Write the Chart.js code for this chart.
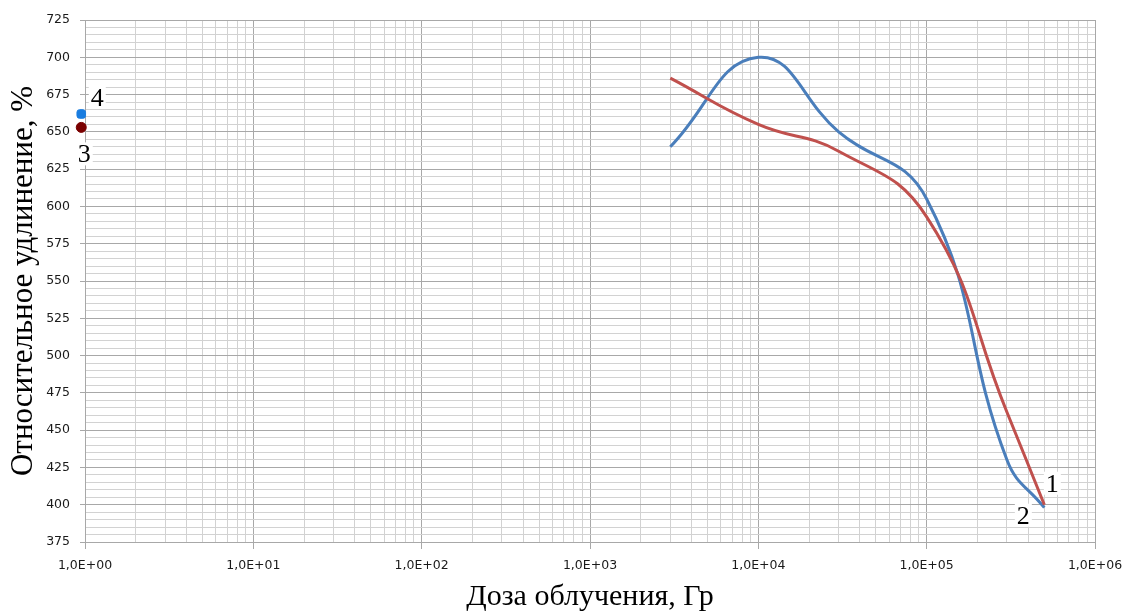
<!DOCTYPE html>
<html>
<head>
<meta charset="utf-8">
<script src="https://cdn.jsdelivr.net/npm/chart.js@4.4.0/dist/chart.umd.min.js"></script>
<style>
  html, body { margin: 0; padding: 0; background: #ffffff; }
  #wrap { width: 1126px; height: 613px; position: relative; }
</style>
</head>
<body>
<div id="wrap"><canvas id="chart" width="1126" height="613"></canvas></div>
<script>
// Irradiation dose, Gy, and relative elongation, %, for curve 1
const doses1 = [3e3, 1e4, 3e4, 1e5, 3e5, 5e5];
const elongation1 = [686, 655, 637, 593, 462, 400];
// Irradiation dose, Gy, and relative elongation, %, for curve 2
const doses2 = [3e3, 1e4, 3e4, 1e5, 3e5, 5e5];
const elongation2 = [640, 700, 650, 605, 430, 398];
// Unirradiated reference samples
const referenceDose = [0.95];
const elongation3 = [653];   // sample 3
const elongation4 = [662];   // sample 4

// Axis ranges and tick values
const decades = [1, 10, 100, 1e3, 1e4, 1e5, 1e6];
const yMin = 375, yMax = 725, yMajorStep = 25, yMinorStep = 5;
const curveNames = ['1', '2', '3', '4'];

const xGridValues = [];
decades.slice(0, -1).forEach(d => { for (let k = 1; k <= 9; k++) xGridValues.push(d * k); });
xGridValues.push(decades[decades.length - 1]);
const yGridValues = [];
for (let v = yMin; v <= yMax; v += yMinorStep) yGridValues.push(v);

const isDecade = v => Math.abs(Math.log10(v) - Math.round(Math.log10(v))) < 1e-9;
const isYMajor = v => v % yMajorStep === 0;
const sciLabel = v => {
  const e = Math.round(Math.log10(v));
  return '1,0E' + (e < 0 ? '-' : '+') + String(Math.abs(e)).padStart(2, '0');
};
const pairs = (xs, ys) => xs.map((x, i) => ({ x, y: ys[i] }));

const MAJOR_GRID = '#a8a8a8';
const MINOR_GRID = '#d2d2d2';

// Number tags next to the curves / markers, drawn on a white box
const tagSpecs = [
  { dataset: 0, index: doses1.length - 1, text: curveNames[0], dx: 8,  dy: -21 },
  { dataset: 1, index: doses2.length - 1, text: curveNames[1], dx: -21, dy: 8 },
  { dataset: 2, index: 0, text: curveNames[2], dx: 3,  dy: 27 },
  { dataset: 3, index: 0, text: curveNames[3], dx: 16, dy: -16 }
];

const curveTags = {
  id: 'curveTags',
  afterDatasetsDraw(chart) {
    const ctx = chart.ctx;
    ctx.save();
    ctx.font = '26px "Liberation Serif", "Times New Roman", serif';
    ctx.textAlign = 'center';
    ctx.textBaseline = 'middle';
    tagSpecs.forEach(t => {
      const el = chart.getDatasetMeta(t.dataset).data[t.index];
      if (!el) return;
      const cx = el.x + t.dx, cy = el.y + t.dy;
      const w = ctx.measureText(t.text).width + 4;
      ctx.fillStyle = '#ffffff';
      ctx.fillRect(cx - w / 2, cy - 12, w, 23);
      ctx.fillStyle = '#000000';
      ctx.fillText(t.text, cx, cy + 1);
    });
    ctx.restore();
  }
};

new Chart(document.getElementById('chart'), {
  type: 'line',
  data: {
    datasets: [
      {
        label: curveNames[0],
        data: pairs(doses1, elongation1),
        borderColor: '#c0504d',
        borderWidth: 3,
        pointRadius: 0,
        tension: 0.45,
        fill: false
      },
      {
        label: curveNames[1],
        data: pairs(doses2, elongation2),
        borderColor: '#4a7ebb',
        borderWidth: 3,
        pointRadius: 0,
        tension: 0.45,
        fill: false
      },
      {
        label: curveNames[2],
        data: pairs(referenceDose, elongation3),
        showLine: false,
        pointStyle: 'circle',
        pointRadius: 5,
        pointBackgroundColor: '#7a0000',
        pointBorderColor: '#7a0000',
        clip: false
      },
      {
        label: curveNames[3],
        data: pairs(referenceDose, elongation4),
        showLine: false,
        pointStyle: 'rectRounded',
        pointRadius: 5,
        pointBackgroundColor: '#1a7de0',
        pointBorderColor: '#1a7de0',
        clip: false
      }
    ]
  },
  options: {
    responsive: false,
    animation: false,
    devicePixelRatio: 1,
    layout: { padding: { top: 20, right: 31, left: 0, bottom: 0 } },
    plugins: {
      legend: { display: false },
      tooltip: { enabled: false }
    },
    scales: {
      x: {
        type: 'logarithmic',
        min: decades[0],
        max: decades[decades.length - 1],
        afterBuildTicks: s => { s.ticks = xGridValues.map(v => ({ value: v, major: isDecade(v) })); },
        afterFit: s => { s.height = 71; s.paddingLeft = 0; s.paddingRight = 0; },
        ticks: {
          autoSkip: false,
          maxRotation: 0,
          padding: 9,
          color: '#1a1a1a',
          font: { family: '"DejaVu Sans", Verdana, sans-serif', size: 12.5 },
          callback: v => isDecade(v) ? sciLabel(v) : ''
        },
        grid: {
          color: c => (c.tick && isDecade(c.tick.value)) ? MAJOR_GRID : MINOR_GRID,
          tickColor: c => (c.tick && isDecade(c.tick.value)) ? MAJOR_GRID : 'rgba(0,0,0,0)',
          tickLength: 7,
          lineWidth: 1
        },
        border: { color: MAJOR_GRID },
        title: {
          display: true,
          text: 'Доза облучения, Гр',
          color: '#000000',
          font: { family: '"Liberation Serif", "Times New Roman", serif', size: 30, lineHeight: 1 },
          padding: { top: 0, bottom: 1 }
        }
      },
      y: {
        type: 'linear',
        min: yMin,
        max: yMax,
        afterBuildTicks: s => { s.ticks = yGridValues.map(v => ({ value: v, major: isYMajor(v) })); },
        afterFit: s => { s.width = 85; },
        ticks: {
          autoSkip: false,
          padding: 10,
          color: '#1a1a1a',
          font: { family: '"DejaVu Sans", Verdana, sans-serif', size: 12.5 },
          callback: v => isYMajor(v) ? String(v) : ''
        },
        grid: {
          color: c => (c.tick && isYMajor(c.tick.value)) ? MAJOR_GRID : MINOR_GRID,
          tickColor: c => (c.tick && isYMajor(c.tick.value)) ? MAJOR_GRID : 'rgba(0,0,0,0)',
          tickLength: 5,
          lineWidth: 1
        },
        border: { color: MAJOR_GRID },
        title: {
          display: true,
          text: 'Относительное удлинение, %',
          color: '#000000',
          font: { family: '"Liberation Serif", "Times New Roman", serif', size: 31, lineHeight: 1 },
          padding: { top: 8, bottom: 0 }
        }
      }
    }
  },
  plugins: [curveTags]
});
</script>
</body>
</html>
